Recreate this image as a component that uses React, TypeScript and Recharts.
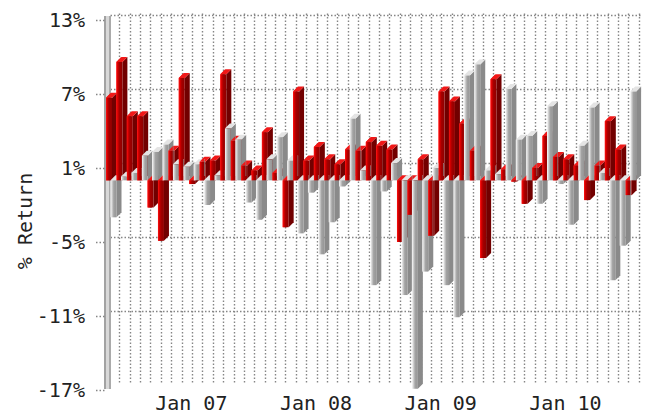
import React from "react";
import { ComposedChart, Bar, XAxis, YAxis, CartesianGrid } from "recharts";

// ---------- data ----------
const MONTHS = [
  "May 06", "Jun 06", "Jul 06", "Aug 06", "Sep 06", "Oct 06", "Nov 06", "Dec 06",
  "Jan 07", "Feb 07", "Mar 07", "Apr 07", "May 07", "Jun 07", "Jul 07", "Aug 07", "Sep 07", "Oct 07", "Nov 07", "Dec 07",
  "Jan 08", "Feb 08", "Mar 08", "Apr 08", "May 08", "Jun 08", "Jul 08", "Aug 08", "Sep 08", "Oct 08", "Nov 08", "Dec 08",
  "Jan 09", "Feb 09", "Mar 09", "Apr 09", "May 09", "Jun 09", "Jul 09", "Aug 09", "Sep 09", "Oct 09", "Nov 09", "Dec 09",
  "Jan 10", "Feb 10", "Mar 10", "Apr 10", "May 10", "Jun 10", "Jul 10",
];

const FUND_RETURNS = [
  6.7, 9.6, 5.2, 5.2, -2.2, -4.9, 2.4, 8.3,
  -0.3, 1.5, 1.6, 8.6, 3.2, 1.2, 0.8, 3.9, 0.6, -3.8, 7.2, 1.6,
  2.7, 1.7, 1.3, 2.5, 2.4, 3.1, 2.8, 2.5, -5.0, -2.8, 1.7, -4.5,
  7.2, 6.4, 4.6, 2.4, -6.3, 8.2, 0.9, -0.1, -1.9, 1.0, 3.6, 1.9,
  1.7, 1.2, -1.6, 1.2, 4.8, 2.5, -1.2,
];

const BENCH_RETURNS = [
  -3.0, 0.3, 0.6, 2.0, 2.3, 2.9, 1.3, 1.1,
  1.3, -2.0, 0.4, 4.2, 3.3, -1.8, -3.2, 1.7, 3.5, 1.6, -4.3, -1.0,
  -6.0, -3.4, -0.5, 5.0, 0.8, -8.5, -0.9, 1.4, -9.3, -16.9, -7.4, 1.0,
  -8.5, -11.1, 8.5, 9.4, 0.8, 0.5, 7.4, 3.3, 3.6, -1.9, 6.0, -0.3,
  -3.6, 2.8, 5.9, 0.6, -8.1, -5.3, 7.2,
];

const Y_TICKS = [-17, -11, -5, 1, 7, 13];
const X_TICKS = ["Jan 07", "Jan 08", "Jan 09", "Jan 10"];
const Y_DOMAIN: [number, number] = [-17, 13];
const Y_TITLE = "% Return";

// ---------- layout / style ----------
const W = 648;
const H = 418;
const MARGIN = { top: 20, right: 12, bottom: 0, left: 0 };
const Y_AXIS_W = 106;
const X_AXIS_H = 28;
const PLOT_L = MARGIN.left + Y_AXIS_W;
const PLOT_T = MARGIN.top;
const PLOT_W = W - PLOT_L - MARGIN.right;
const PLOT_H = H - MARGIN.top - MARGIN.bottom - X_AXIS_H;

const DEPTH = 5;
const FRONT_W = 6;
const GRAY_OFF = 4.5;
const BACK_DX = 4.5;
const BACK_DY = -5.5;
const FONT = '"DejaVu Sans Mono", monospace';
const TEXT_COLOR = "#222222";
const GRID_COLOR = "#858585";

const data = MONTHS.map((m, i) => ({ month: m, fund: FUND_RETURNS[i], bench: BENCH_RETURNS[i] }));

const yOf = (v: number) => PLOT_T + (PLOT_H * (Y_DOMAIN[1] - v)) / (Y_DOMAIN[1] - Y_DOMAIN[0]);
const H_GRID = Y_TICKS.filter((v) => v > Y_DOMAIN[0]).map((v) => Math.round(yOf(v) + BACK_DY) + 0.5);
const V_GRID = MONTHS.map((_, i) => Math.round(PLOT_L + (PLOT_W * (i + 1)) / MONTHS.length + 2.8) + 0.5);

const RED = { grad: "gradRed", side: "#720000", top: "#f01818" };
const GRAY = { grad: "gradGray", side: "#8a8a8a", top: "#e4e4e4" };

function Box3D(props: { fx: number; fw: number; t: number; b: number; pal: { grad: string; side: string; top: string } }) {
  const { fx, fw, t, b, pal } = props;
  const d = DEPTH;
  return (
    <g>
      <polygon
        points={`${fx + fw},${t} ${fx + fw + d},${t - d} ${fx + fw + d},${b - d} ${fx + fw},${b}`}
        fill={pal.side}
      />
      <polygon points={`${fx},${t} ${fx + fw},${t} ${fx + fw + d},${t - d} ${fx + d},${t - d}`} fill={pal.top} />
      <rect x={fx} y={t} width={fw} height={Math.max(0.5, b - t)} fill={`url(#${pal.grad})`} />
    </g>
  );
}

const span = (p: any): [number, number] => {
  const a = p.y;
  const c = p.y + p.height;
  return [Math.min(a, c), Math.max(a, c)];
};

const FundShape = (p: any) => {
  if (p.x == null || isNaN(p.y)) return <g />;
  const [t, b] = span(p);
  return <Box3D fx={p.x} fw={FRONT_W} t={t} b={b} pal={RED} />;
};

const BenchShape = (p: any) => {
  if (p.x == null || isNaN(p.y)) return <g />;
  const [t, b] = span(p);
  return <Box3D fx={p.x + GRAY_OFF} fw={FRONT_W} t={t} b={b} pal={GRAY} />;
};

const FundOverlay = (p: any) => {
  if (p.x == null || isNaN(p.y)) return <g />;
  const [t, b] = span(p);
  const id = `ovclip${p.index}`;
  return (
    <g>
      <defs>
        <clipPath id={id}>
          <rect x={p.x - 0.5} y={0} width={GRAY_OFF + 0.5} height={H} />
        </clipPath>
      </defs>
      <g clipPath={`url(#${id})`}>
        <Box3D fx={p.x} fw={FRONT_W} t={t} b={b} pal={RED} />
      </g>
    </g>
  );
};

const YTick = (p: any) => {
  const { x, y, payload } = p;
  return (
    <g>
      <text x={x - 21} y={y} dy="0.36em" textAnchor="end" fontFamily={FONT} fontSize={20} fill={TEXT_COLOR}>
        {`${payload.value}%`}
      </text>
      <line
        x1={x - 10}
        x2={x - 1}
        y1={Math.round(y) + 0.5}
        y2={Math.round(y) + 0.5}
        stroke={GRID_COLOR}
        strokeWidth={1.4}
        strokeDasharray="1.5 2"
      />
    </g>
  );
};

const XTick = (p: any) => {
  const { x, y, payload } = p;
  return (
    <text x={x - 3} y={y + 6} dy="0.71em" textAnchor="middle" fontFamily={FONT} fontSize={20} fill={TEXT_COLOR}>
      {payload.value}
    </text>
  );
};

const YTitle = () => {
  const cx = 25;
  const cy = PLOT_T + PLOT_H / 2 + 16;
  return (
    <text
      x={cx}
      y={cy}
      transform={`rotate(-90, ${cx}, ${cy})`}
      textAnchor="middle"
      dy="0.36em"
      fontFamily={FONT}
      fontSize={20}
      fill={TEXT_COLOR}
    >
      {Y_TITLE}
    </text>
  );
};

export default function App() {
  return (
    <div style={{ position: "absolute", left: 0, top: 0, width: W, height: H, background: "#ffffff" }}>
      <ComposedChart width={W} height={H} data={data} margin={MARGIN} barCategoryGap={0} barGap={0}>
        <defs>
          <linearGradient id="gradRed" x1="0" y1="0" x2="1" y2="0">
            <stop offset="0%" stopColor="#ff1414" />
            <stop offset="22%" stopColor="#d60000" />
            <stop offset="50%" stopColor="#a30000" />
            <stop offset="100%" stopColor="#8e0000" />
          </linearGradient>
          <linearGradient id="gradGray" x1="0" y1="0" x2="1" y2="0">
            <stop offset="0%" stopColor="#ffffff" />
            <stop offset="25%" stopColor="#d2d2d2" />
            <stop offset="55%" stopColor="#a2a2a2" />
            <stop offset="100%" stopColor="#959595" />
          </linearGradient>
        </defs>
        <CartesianGrid
          x={PLOT_L + BACK_DX}
          y={PLOT_T + BACK_DY - 1}
          width={PLOT_W}
          height={PLOT_H}
          horizontalPoints={H_GRID}
          verticalPoints={V_GRID}
          stroke={GRID_COLOR}
          strokeWidth={1.4}
          strokeDasharray="1.5 2"
        />
        <CartesianGrid
          x={PLOT_L - 2}
          y={PLOT_T - 4}
          width={7}
          height={PLOT_H + 3}
          horizontal={false}
          verticalPoints={[PLOT_L - 2, PLOT_L, PLOT_L + 3]}
          verticalFill={["#a2a2a2", "#d8d8d8", "#aaaaaa"]}
          stroke="none"
        />
        <XAxis
          dataKey="month"
          ticks={X_TICKS}
          interval={0}
          tick={<XTick />}
          tickLine={false}
          axisLine={false}
          tickSize={0}
          tickMargin={0}
          height={X_AXIS_H}
        />
        <XAxis xAxisId="back" dataKey="month" hide />
        <XAxis xAxisId="over" dataKey="month" hide />
        <YAxis
          domain={Y_DOMAIN}
          ticks={Y_TICKS}
          allowDataOverflow
          width={Y_AXIS_W}
          axisLine={false}
          tickLine={false}
          tickSize={0}
          tickMargin={0}
          tick={<YTick />}
          label={<YTitle />}
        />
        <Bar dataKey="fund" shape={FundShape} isAnimationActive={false} />
        <Bar xAxisId="back" dataKey="bench" shape={BenchShape} isAnimationActive={false} />
        <Bar xAxisId="over" dataKey="fund" shape={FundOverlay} isAnimationActive={false} legendType="none" />
      </ComposedChart>
    </div>
  );
}
